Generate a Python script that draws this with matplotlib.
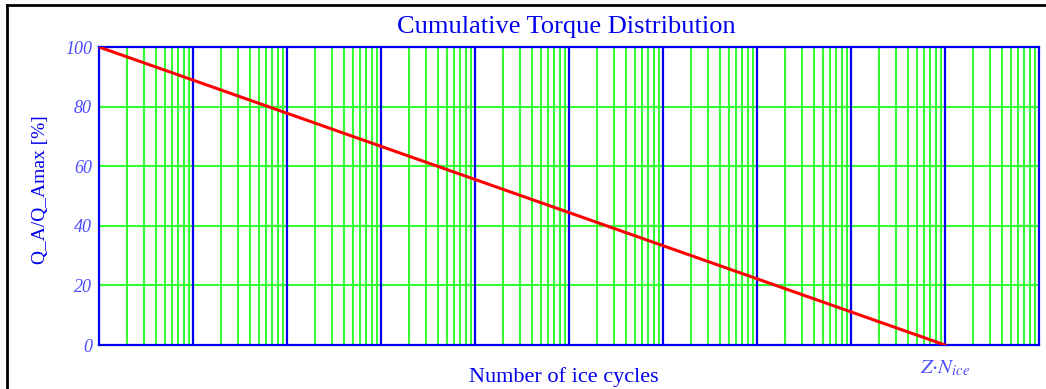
import matplotlib
matplotlib.use("Agg")
import matplotlib.pyplot as plt
from matplotlib.lines import Line2D
from matplotlib.ticker import FixedLocator, NullFormatter
import numpy as np

# cumulative torque distribution: load level vs. number of ice cycles
cycles = [1.0, 1e9]          # 1 cycle ... Z*N_ice
torque_pct = [100.0, 0.0]    # Q_A / Q_Amax in percent

x_range = [1.0, 1e10]
y_ticks = [0, 20, 40, 60, 80, 100]
end_label = r"$Z{\cdot}N_{ice}$"

blue = "#0000ee"
label_blue = "#4b4bff"
green = "#33ff33"

plt.rcParams["font.family"] = ["Liberation Serif", "DejaVu Serif"]
plt.rcParams["mathtext.fontset"] = "stix"

fig = plt.figure(figsize=(10.46, 3.89), dpi=100)
ax = fig.add_axes([99 / 1046, 1 - 345 / 389, 940 / 1046, 298 / 389])

ax.set_xscale("log")
ax.set_xlim(x_range)
ax.set_ylim(0, 100)

# minor (2..9) verticals in green, decades in blue
decades = 10.0 ** np.arange(0, 11)
minors = [d * k for d in decades[:-1] for k in range(2, 10)]
for xm in minors:
    ax.axvline(xm, color=green, lw=1.5, zorder=1)
for xd in decades[1:-1]:
    ax.axvline(xd, color=blue, lw=1.6, zorder=2)
for yv in y_ticks[1:-1]:
    ax.axhline(yv, color=green, lw=1.5, zorder=1)

ax.plot(cycles, torque_pct, color="#ff0000", lw=2.2, zorder=3)

for s in ax.spines.values():
    s.set_color(blue)
    s.set_linewidth(1.6)

ax.yaxis.set_major_locator(FixedLocator(y_ticks))
ax.set_yticklabels([str(v) for v in y_ticks], fontsize=13, style="italic",
                   color=label_blue)
ax.xaxis.set_major_locator(FixedLocator([cycles[-1]]))
ax.xaxis.set_minor_formatter(NullFormatter())
ax.xaxis.set_minor_locator(FixedLocator([]))
ax.set_xticklabels([end_label], fontsize=15, color=label_blue)
ax.tick_params(axis="y", length=0, pad=5)
ax.tick_params(axis="x", length=0, pad=10)

ax.set_title("Cumulative Torque Distribution", fontsize=19, color=blue,
             pad=10, x=0.497)
ax.set_xlabel("Number of ice cycles", fontsize=16, color=blue, va="center")
ax.xaxis.set_label_coords(0.494, -32 / 298)
ax.set_ylabel("Q_A/Q_Amax [%]", fontsize=14, color=blue, va="center")
ax.yaxis.set_label_coords(-59 / 940, 0.52)

# black frame along top and left edges
fig.add_artist(Line2D([7 / 1046, 7 / 1046], [0, 1 - 5 / 389],
                      transform=fig.transFigure, color="black", lw=2))
fig.add_artist(Line2D([7 / 1046, 1], [1 - 5 / 389, 1 - 5 / 389],
                      transform=fig.transFigure, color="black", lw=2))

fig.savefig("out.png", dpi=100)
